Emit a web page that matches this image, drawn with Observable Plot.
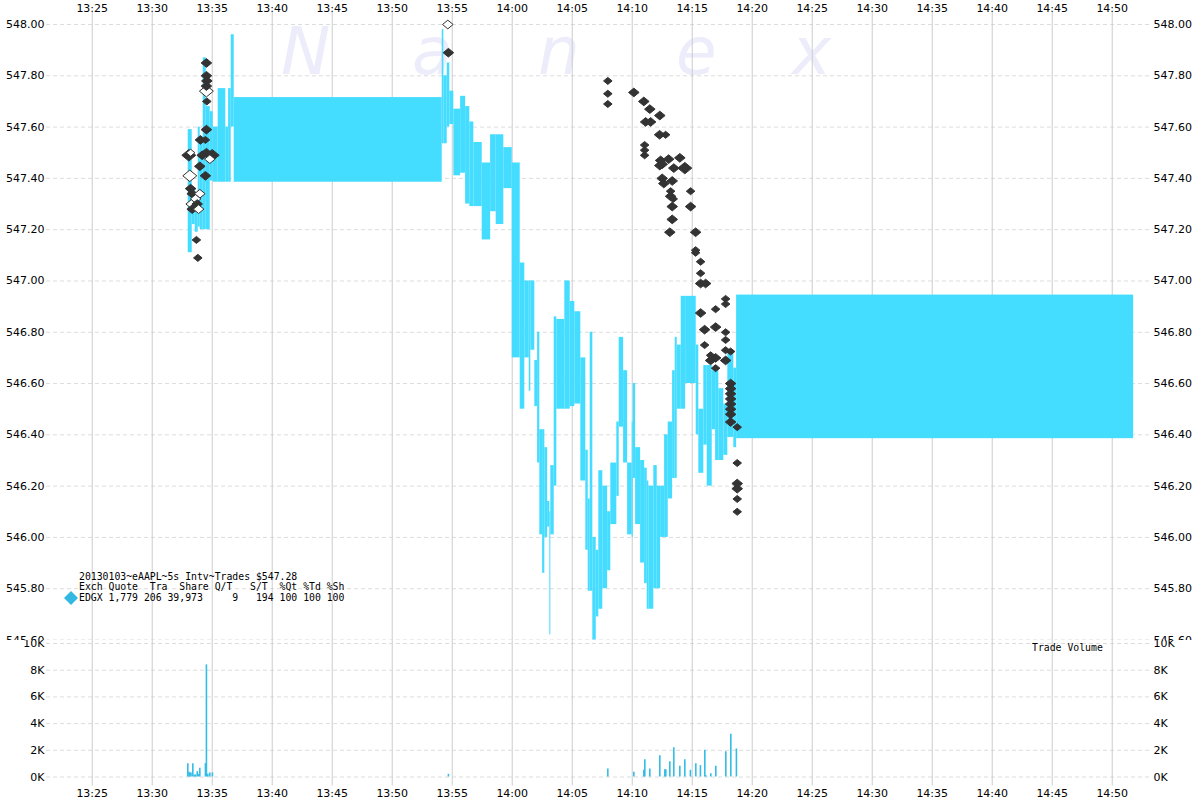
<!DOCTYPE html>
<html><head><meta charset="utf-8">
<script src="https://cdn.jsdelivr.net/npm/d3@7"></script>
<script src="https://cdn.jsdelivr.net/npm/@observablehq/plot@0.6"></script>
<style>
html,body{margin:0;padding:0;background:#fff;}
#wrap{position:relative;width:1200px;height:800px;overflow:hidden;font-family:"DejaVu Sans",sans-serif;}
#wrap > *{position:absolute;left:0;}
#bg{top:0;z-index:0;}
#upper{top:0;z-index:1;}
#lower{top:640px;z-index:2;}
#over{top:0;z-index:3;pointer-events:none;}
</style></head>
<body><div id="wrap"></div>
<script>
// ---------- DATA ----------
// 5-second interval price ranges: [start, end, low, high]
const priceBars = [
  ["13:33:00","13:33:20",547.11,547.59],
  ["13:33:20","13:33:35",547.22,547.36],
  ["13:33:35","13:33:50",547.19,547.33],
  ["13:33:50","13:34:00",547.21,547.60],
  ["13:34:00","13:34:15",547.20,547.55],
  ["13:34:15","13:34:30",547.20,547.87],
  ["13:34:30","13:34:50",547.20,547.68],
  ["13:34:50","13:35:05",547.39,547.66],
  ["13:35:05","13:35:30",547.385,547.60],
  ["13:35:30","13:36:08",547.385,547.75],
  ["13:36:08","13:36:22",547.385,547.60],
  ["13:36:22","13:36:35",547.385,547.75],
  ["13:36:35","13:36:50",547.60,547.96],
  ["13:36:50","13:54:10",547.385,547.715],
  ["13:54:10","13:54:18",547.535,547.98],
  ["13:54:18","13:54:35",547.535,547.80],
  ["13:54:35","13:54:48",547.60,547.85],
  ["13:54:48","13:55:08",547.61,547.74],
  ["13:55:08","13:55:42",547.41,547.67],
  ["13:55:42","13:56:07",547.42,547.72],
  ["13:56:07","13:56:28",547.30,547.68],
  ["13:56:28","13:56:48",547.29,547.62],
  ["13:56:48","13:57:30",547.29,547.54],
  ["13:57:30","13:58:12",547.16,547.46],
  ["13:58:12","13:58:40",547.27,547.57],
  ["13:58:40","13:59:18",547.22,547.57],
  ["13:59:18","14:00:00",547.36,547.52],
  ["14:00:00","14:00:40",546.70,547.46],
  ["14:00:40","14:01:03",546.50,547.07],
  ["14:01:03","14:01:25",546.70,547.00],
  ["14:01:25","14:01:33",546.57,547.00],
  ["14:01:33","14:01:53",546.73,547.00],
  ["14:01:53","14:02:07",546.51,546.69],
  ["14:02:07","14:02:18",546.29,546.80],
  ["14:02:18","14:02:32",546.01,546.42],
  ["14:02:32","14:02:43",545.86,546.42],
  ["14:02:43","14:02:57",546.00,546.35],
  ["14:02:57","14:03:08",546.04,546.14],
  ["14:03:08","14:03:13",545.62,546.10],
  ["14:03:13","14:03:30",546.01,546.28],
  ["14:03:30","14:03:43",546.20,546.86],
  ["14:03:43","14:04:23",546.50,546.85],
  ["14:04:23","14:04:50",546.50,547.00],
  ["14:04:50","14:05:13",546.51,546.92],
  ["14:05:13","14:05:43",546.52,546.88],
  ["14:05:43","14:06:08",546.22,546.70],
  ["14:06:08","14:06:20",545.95,546.34],
  ["14:06:20","14:06:30",545.79,546.15],
  ["14:06:30","14:06:43",545.79,546.80],
  ["14:06:43","14:07:00",545.60,546.00],
  ["14:07:00","14:07:13",545.69,545.95],
  ["14:07:13","14:07:33",545.72,546.26],
  ["14:07:33","14:07:57",545.80,546.20],
  ["14:07:57","14:08:13",545.87,546.10],
  ["14:08:13","14:08:43",546.05,546.29],
  ["14:08:43","14:08:55",546.16,546.45],
  ["14:08:55","14:09:17",546.43,546.78],
  ["14:09:17","14:09:37",546.29,546.65],
  ["14:09:37","14:10:00",546.01,546.29],
  ["14:10:00","14:10:05",546.00,546.45],
  ["14:10:05","14:10:17",546.23,546.60],
  ["14:10:17","14:10:42",546.05,546.35],
  ["14:10:42","14:11:02",545.90,546.30],
  ["14:11:02","14:11:15",545.82,546.27],
  ["14:11:15","14:11:23",545.72,546.22],
  ["14:11:23","14:11:48",545.72,546.20],
  ["14:11:48","14:12:05",545.80,546.28],
  ["14:12:05","14:12:22",545.80,546.20],
  ["14:12:22","14:12:42",546.00,546.20],
  ["14:12:42","14:13:00",546.00,546.40],
  ["14:13:00","14:13:22",546.15,546.45],
  ["14:13:22","14:13:35",546.23,546.65],
  ["14:13:35","14:13:45",546.23,546.78],
  ["14:13:45","14:14:05",546.50,546.75],
  ["14:14:05","14:14:27",546.50,546.94],
  ["14:14:27","14:15:20",546.60,546.94],
  ["14:15:20","14:15:33",546.40,546.75],
  ["14:15:33","14:15:58",546.25,546.50],
  ["14:15:58","14:16:15",546.36,546.67],
  ["14:16:15","14:16:40",546.20,546.67],
  ["14:16:40","14:16:57",546.42,546.65],
  ["14:16:57","14:17:13",546.30,546.65],
  ["14:17:13","14:17:38",546.30,546.58],
  ["14:17:38","14:17:58",546.32,546.52],
  ["14:17:58","14:18:28",546.39,546.72],
  ["14:18:28","14:18:42",546.35,546.66],
  ["14:18:42","14:51:47",546.385,546.945]
];

// individual trades: [time, price, size class, hollow]
const trades = [
  ["13:34:31",547.85,2,0],["13:34:31",547.80,2,0],["13:34:33",547.78,2,0],["13:34:31",547.76,2,0],
  ["13:34:31",547.74,3,1],["13:34:33",547.70,1,0],["13:34:31",547.59,2,0],["13:34:01",547.55,2,0],
  ["13:34:26",547.55,1,0],["13:33:03",547.49,3,0],["13:33:12",547.50,1,1],["13:34:10",547.49,2,0],
  ["13:34:31",547.50,2,0],["13:35:00",547.49,3,0],["13:34:48",547.475,2,1],["13:33:58",547.447,2,0],
  ["13:34:26",547.41,2,0],["13:33:08",547.41,3,1],["13:33:12",547.36,2,0],["13:33:20",547.34,2,0],
  ["13:33:58",547.34,2,1],["13:33:37",547.32,2,1],["13:33:15",547.30,2,1],["13:33:45",547.30,2,0],
  ["13:33:20",547.28,2,0],["13:33:52",547.28,2,1],["13:33:41",547.16,1,0],["13:33:48",547.09,1,0],
  ["13:54:41",547.89,2,0],["13:54:38",548.00,2,1],
  ["14:07:58",547.78,1,0],["14:07:58",547.73,1,0],["14:07:58",547.69,1,0],["14:10:08",547.735,2,0],
  ["14:10:58",547.70,2,0],["14:11:28",547.67,2,0],["14:12:18",547.645,2,0],["14:11:07",547.62,2,0],
  ["14:11:32",547.62,2,0],["14:12:17",547.57,2,0],["14:12:47",547.57,1,0],["14:11:02",547.53,1,0],
  ["14:11:02",547.51,1,0],["14:11:02",547.49,1,0],["14:12:22",547.47,2,0],["14:12:30",547.455,2,0],
  ["14:13:02",547.475,2,0],["14:13:58",547.48,2,0],["14:12:18",547.45,2,0],["14:13:28",547.44,2,0],
  ["14:14:23",547.44,3,0],["14:12:30",547.40,2,0],["14:13:20",547.39,2,0],["14:12:38",547.38,2,0],
  ["14:13:12",547.35,1,0],["14:14:52",547.35,1,0],["14:13:12",547.33,2,0],["14:13:25",547.32,1,0],
  ["14:13:20",547.29,2,0],["14:14:52",547.29,2,0],["14:13:20",547.24,2,0],["14:13:08",547.19,2,0],
  ["14:15:17",547.19,2,0],["14:15:17",547.12,1,0],["14:15:17",547.11,1,0],["14:15:42",547.075,1,0],
  ["14:15:42",547.03,1,0],["14:15:42",546.99,2,0],["14:16:07",546.99,2,0],["14:17:47",546.93,1,0],
  ["14:17:47",546.91,1,0],["14:15:42",546.875,2,0],["14:16:57",546.89,1,0],["14:16:02",546.81,2,0],
  ["14:16:57",546.82,2,0],["14:17:47",546.80,1,0],["14:17:47",546.77,1,0],["14:16:02",546.75,1,0],
  ["14:16:32",546.71,1,0],["14:16:32",546.69,2,0],["14:16:57",546.70,2,0],["14:17:47",546.73,1,0],
  ["14:18:12",546.725,1,0],["14:17:47",546.69,2,0],["14:16:57",546.66,1,0],["14:18:12",546.60,2,0],
  ["14:18:12",546.58,2,0],["14:18:12",546.56,2,0],["14:18:12",546.54,2,0],["14:18:12",546.52,2,0],
  ["14:18:12",546.50,2,0],["14:18:12",546.48,2,0],["14:18:12",546.45,2,0],["14:18:45",546.43,1,0],
  ["14:18:45",546.29,1,0],["14:18:45",546.21,2,0],["14:18:45",546.19,2,0],["14:18:45",546.15,1,0],
  ["14:18:45",546.10,1,0]
];

// trade volume per 5s interval: [time, shares]
const volumes = [
  ["13:32:58",1000],["13:33:04",350],["13:33:09",300],["13:33:14",300],["13:33:23",1000],
  ["13:33:31",150],["13:33:36",150],["13:33:45",400],["13:33:52",200],["13:33:58",650],
  ["13:34:26",1000],["13:34:31",8400],["13:34:38",200],["13:34:48",300],["13:35:01",300],
  ["13:54:41",200],
  ["14:07:58",600],["14:10:08",350],["14:10:58",500],["14:11:03",1300],["14:11:28",600],
  ["14:12:18",1600],["14:12:43",550],["14:12:48",550],["14:13:08",1150],["14:13:28",2200],
  ["14:13:58",800],["14:14:23",1300],["14:14:51",500],["14:15:18",1000],["14:15:41",850],
  ["14:16:03",2000],["14:16:08",100],["14:16:33",250],["14:16:58",800],["14:17:48",1900],
  ["14:18:13",3200],["14:18:41",2100]
];

// axis ticks
const timeTicks = ["13:25","13:30","13:35","13:40","13:45","13:50","13:55","14:00","14:05","14:10",
                   "14:15","14:20","14:25","14:30","14:35","14:40","14:45","14:50"];
const priceTicks = [545.6,545.8,546.0,546.2,546.4,546.6,546.8,547.0,547.2,547.4,547.6,547.8,548.0];
const volumeTicks = [0,2000,4000,6000,8000,10000];

const legendLines = [
  "20130103~eAAPL~5s Intv~Trades $547.28",
  "Exch Quote  Tra  Share Q/T   S/T  %Qt %Td %Sh",
  "EDGX 1,779 206 39,973     9   194 100 100 100"
];

// ---------- HELPERS ----------
const tm = s => { const [h,m,sec] = s.split(":").map(Number); return (h-13)*60 + m + (sec||0)/60; };
const fmtTime = v => { const h = 13 + Math.floor(v/60), m = Math.round(v - (h-13)*60); return h + ":" + String(m).padStart(2,"0"); };
const xTickVals = timeTicks.map(tm);
const CYAN = "#44dcff", VOL = "#33bde6", DARK = "#333333";
const xScale = {domain: [21.19, 113.19], range: [46, 1150]};
const font = {fontFamily: "DejaVu Sans, sans-serif", fontSize: "11px", color: "#000", background: "transparent"};

// flattened diamond symbol
const flatDiamond = {
  draw(ctx, size) {
    const r = Math.sqrt(size / Math.PI), h = r * 0.82;
    ctx.moveTo(0, -h); ctx.lineTo(r, 0); ctx.lineTo(0, h); ctx.lineTo(-r, 0); ctx.closePath();
  }
};
const sizeR = {1: 4.3, 2: 5.3, 3: 7};

// ---------- UPPER PANEL ----------
const upper = Plot.plot({
  width: 1200, height: 646,
  marginLeft: 46, marginRight: 50, marginTop: 24, marginBottom: 6.5,
  style: font,
  x: {...xScale, axis: null},
  y: {domain: [545.6, 548], axis: null},
  r: {type: "identity"},
  marks: [
    Plot.ruleY(priceTicks, {stroke: "#dcdcdc", strokeDasharray: "4,3"}),
    Plot.ruleX(xTickVals, {stroke: "#cccccc", insetTop: -12, insetBottom: -7}),
    Plot.rect(priceBars, {x1: d => tm(d[0]), x2: d => tm(d[1]), y1: d => d[2], y2: d => d[3], fill: CYAN}),
    Plot.dot(trades, {x: d => tm(d[0]), y: d => d[1], r: d => sizeR[d[2]], symbol: flatDiamond,
      fill: d => d[3] ? "#ffffff" : DARK, stroke: DARK, strokeWidth: 1}),
    Plot.axisX({anchor: "top", ticks: xTickVals, tickFormat: fmtTime, tickSize: 0, tickPadding: 13, label: null}),
    Plot.axisY({anchor: "left", ticks: priceTicks, tickFormat: d3.format(".2f"), tickSize: 0, tickPadding: 2, label: null}),
    Plot.axisY({anchor: "right", ticks: priceTicks, tickFormat: d3.format(".2f"), tickSize: 0, tickPadding: 3, label: null})
  ]
});
upper.id = "upper";

// ---------- LOWER PANEL ----------
const lower = Plot.plot({
  width: 1200, height: 160,
  marginLeft: 46, marginRight: 50, marginTop: 3, marginBottom: 23.5,
  style: {...font, background: "#ffffff"},
  x: {...xScale, axis: null},
  y: {domain: [0, 10000], axis: null},
  marks: [
    Plot.ruleY(volumeTicks, {stroke: "#dcdcdc", strokeDasharray: "4,3"}),
    Plot.ruleX(xTickVals, {stroke: "#cccccc", insetTop: -3, insetBottom: -9}),
    Plot.ruleX(volumes, {x: d => tm(d[0]), y1: 0, y2: d => d[1], stroke: VOL, strokeWidth: 1.6}),
    Plot.axisX({anchor: "bottom", ticks: xTickVals, tickFormat: fmtTime, tickSize: 0, tickPadding: 12, label: null}),
    Plot.axisY({anchor: "left", ticks: volumeTicks, tickFormat: d => d/1000 + "K", tickSize: 0, tickPadding: 2, label: null}),
    Plot.axisY({anchor: "right", ticks: volumeTicks, tickFormat: d => d/1000 + "K", tickSize: 0, tickPadding: 3, label: null})
  ]
});
lower.id = "lower";

// ---------- WATERMARK & LEGEND ----------
const NS = "http://www.w3.org/2000/svg";
const wrap = document.getElementById("wrap");
const bg = document.createElementNS(NS, "svg");
bg.id = "bg"; bg.setAttribute("width", 1200); bg.setAttribute("height", 800);
[["N",281],["a",412],["n",538],["e",676],["x",792]].forEach(([ch, x]) => {
  const t = document.createElementNS(NS, "text");
  t.setAttribute("x", x); t.setAttribute("y", 74);
  t.setAttribute("font-family", "DejaVu Sans"); t.setAttribute("font-style", "italic");
  t.setAttribute("font-size", 66); t.setAttribute("fill", "#ececfb");
  t.textContent = ch; bg.appendChild(t);
});

const over = document.createElementNS(NS, "svg");
over.id = "over"; over.setAttribute("width", 1200); over.setAttribute("height", 800);
const mono = "DejaVu Sans Mono";
legendLines.forEach((line, i) => {
  const t = document.createElementNS(NS, "text");
  t.setAttribute("x", 79); t.setAttribute("y", 580 + i * 10.4);
  t.setAttribute("font-family", mono); t.setAttribute("font-size", 9.8);
  t.setAttribute("style", "white-space:pre"); t.setAttribute("fill", "#000");
  t.textContent = line; over.appendChild(t);
});
const dia = document.createElementNS(NS, "path");
dia.setAttribute("d", "M71,591 L78,598 L71,605 L64,598 Z");
dia.setAttribute("fill", "#33b8e3"); over.appendChild(dia);
const tv = document.createElementNS(NS, "text");
tv.setAttribute("x", 1032); tv.setAttribute("y", 651);
tv.setAttribute("font-family", mono); tv.setAttribute("font-size", 9.8); tv.setAttribute("fill", "#000");
tv.textContent = "Trade Volume"; over.appendChild(tv);

wrap.appendChild(bg);
wrap.appendChild(upper);
wrap.appendChild(lower);
wrap.appendChild(over);
</script>
</body></html>
